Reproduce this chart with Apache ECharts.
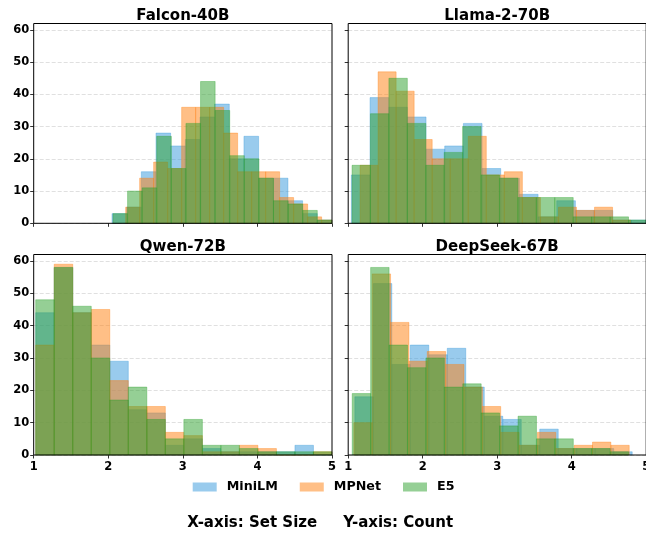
<!DOCTYPE html>
<html>
<head>
<meta charset="utf-8">
<script src="https://cdn.jsdelivr.net/npm/echarts@6/dist/echarts.min.js"></script>
<style>html,body{margin:0;padding:0;background:#fff}#c{width:646px;height:535px}</style>
</head>
<body>
<div id="c"></div>
<script>
const panelTitles = ['Falcon-40B', 'Llama-2-70B', 'Qwen-72B', 'DeepSeek-67B'];
const modelNames = ['MiniLM', 'MPNet', 'E5'];
const xTicks = [1, 2, 3, 4, 5];
const yTicks = [0, 10, 20, 30, 40, 50, 60];
const xLabel = 'X-axis: Set Size';
const yLabel = 'Y-axis: Count';

// histogram bin start (first edge) and bin width per model [MiniLM, MPNet, E5]
const falconBinStart = [2.050, 2.233, 2.063];
const falconBinWidth = [0.1966, 0.1877, 0.1957];
const falconMiniLM = [3, 5, 16, 28, 24, 26, 33, 37, 20, 27, 14, 14, 7, 3, 1];
const falconMPNet  = [5, 14, 19, 17, 36, 36, 36, 28, 16, 16, 16, 8, 6, 2, 1];
const falconE5     = [3, 10, 11, 27, 17, 31, 44, 35, 21, 20, 14, 7, 6, 4, 1];

const llamaBinStart = [1.0425, 1.159, 1.0515];
const llamaBinWidth = [0.2506, 0.2421, 0.2474];
const llamaMiniLM = [15, 39, 36, 33, 23, 24, 31, 17, 14, 9, 2, 7, 4, 4, 1, 1];
const llamaMPNet  = [18, 47, 41, 26, 20, 20, 27, 15, 16, 8, 2, 5, 4, 5, 1];
const llamaE5     = [18, 34, 45, 31, 18, 22, 30, 15, 14, 8, 8, 8, 2, 2, 2, 1];

const qwenBinStart = [1.027, 1.027, 1.027];
const qwenBinWidth = [0.2483, 0.2483, 0.2483];
const qwenMiniLM = [44, 58, 44, 34, 29, 14, 13, 3, 5, 2, 1, 1, 1, 1, 3, 0];
const qwenMPNet  = [34, 59, 44, 45, 23, 15, 15, 7, 6, 1, 1, 3, 2, 0, 0, 1];
const qwenE5     = [48, 58, 46, 30, 17, 21, 11, 5, 11, 3, 3, 2, 1, 1, 1, 1];

const deepseekBinStart = [1.089, 1.076, 1.054];
const deepseekBinWidth = [0.2482, 0.2464, 0.2473];
const deepseekMiniLM = [18, 53, 28, 34, 31, 33, 21, 12, 11, 3, 8, 2, 2, 2, 1];
const deepseekMPNet  = [10, 56, 41, 29, 32, 28, 21, 15, 7, 3, 7, 2, 3, 4, 3];
const deepseekE5     = [19, 58, 34, 27, 30, 21, 22, 13, 9, 12, 5, 5, 2, 2, 1];

const panels = [
  { starts: falconBinStart, widths: falconBinWidth, counts: [falconMiniLM, falconMPNet, falconE5] },
  { starts: llamaBinStart, widths: llamaBinWidth, counts: [llamaMiniLM, llamaMPNet, llamaE5] },
  { starts: qwenBinStart, widths: qwenBinWidth, counts: [qwenMiniLM, qwenMPNet, qwenE5] },
  { starts: deepseekBinStart, widths: deepseekBinWidth, counts: [deepseekMiniLM, deepseekMPNet, deepseekE5] }
];

const colors = ['rgba(52,152,219,0.5)', 'rgba(255,127,14,0.5)', 'rgba(44,160,44,0.5)'];
const FONT = 'DejaVu Sans';

const gridBoxes = [
  { left: 33.7, top: 23.5, width: 298.3, height: 199.8 },
  { left: 348.2, top: 23.5, width: 298, height: 199.8 },
  { left: 33.7, top: 254.5, width: 298.3, height: 200.5 },
  { left: 348.2, top: 254.5, width: 298, height: 200.5 }
];

function renderItem(params, api) {
  const p0 = api.coord([api.value(0), 0]);
  const p1 = api.coord([api.value(1), api.value(2)]);
  const cs = params.coordSys;
  const rect = echarts.graphic.clipRectByRect(
    { x: p0[0], y: p1[1], width: p1[0] - p0[0], height: p0[1] - p1[1] },
    { x: cs.x, y: cs.y, width: cs.width, height: cs.height }
  );
  if (!rect) return;
  const c = api.visual('color');
  return { type: 'rect', shape: rect, style: { fill: c, stroke: c, lineWidth: 0.7 } };
}

const grids = [], xAxes = [], yAxes = [], series = [], titles = [];
panels.forEach((pn, p) => {
  const g = gridBoxes[p];
  grids.push(Object.assign({ show: true, borderColor: '#000', borderWidth: 1, z: 10, containLabel: false, outerBoundsMode: 'none' }, g));
  const bottomRow = p >= 2, leftCol = p % 2 === 0;
  xAxes.push({
    type: 'value', gridIndex: p, min: 1, max: 5, interval: 1,
    axisLine: { show: false },
    axisTick: { show: true, length: 3.5, lineStyle: { color: '#333' } },
    axisLabel: { show: bottomRow, fontFamily: FONT, fontWeight: 'bold', fontSize: 11.5, color: '#000', margin: 6, hideOverlap: false },
    splitLine: { show: false }
  });
  yAxes.push({
    type: 'value', gridIndex: p, min: 0, max: 62,
    axisLine: { show: false },
    axisTick: { show: true, length: 3.5, lineStyle: { color: '#333' }, customValues: yTicks },
    axisLabel: { show: leftCol, fontFamily: FONT, fontWeight: 'bold', fontSize: 11.5, color: '#000', margin: 4.5, customValues: yTicks },
    splitLine: { show: true, lineStyle: { color: '#d8d8d8', type: [4, 2], width: 0.8 } }
  });
  titles.push({
    text: panelTitles[p], left: g.left + g.width / 2, textAlign: 'center', top: g.top - 15, padding: 0,
    textStyle: { fontFamily: FONT, fontWeight: 'bold', fontSize: 15, color: '#000' }
  });
  modelNames.forEach((name, m) => {
    const cnt = pn.counts[m];
    const data = cnt.map((c, i) => [pn.starts[m] + i * pn.widths[m], pn.starts[m] + (i + 1) * pn.widths[m], c]);
    series.push({
      type: 'custom', name: name, xAxisIndex: p, yAxisIndex: p,
      itemStyle: { color: colors[m] },
      encode: { x: [0, 1], y: 2 },
      renderItem: renderItem, data: data, z: 2
    });
  });
});

const chart = echarts.init(document.getElementById('c'), null, { renderer: 'canvas' });
chart.setOption({
  animation: false,
  backgroundColor: '#fff',
  title: titles,
  grid: grids,
  xAxis: xAxes,
  yAxis: yAxes,
  legend: {
    data: modelNames, top: 480.5, left: 192.7, itemWidth: 24, itemHeight: 9, itemGap: 22,
    icon: 'rect', padding: 0,
    textStyle: { fontFamily: FONT, fontWeight: 'bold', fontSize: 12.7, color: '#000', padding: [0, 0, 0, 5] }
  },
  graphic: [
    { type: 'text', left: 187.3, top: 516, style: { text: xLabel, font: 'bold 15px "DejaVu Sans"', fill: '#000' } },
    { type: 'text', left: 343.3, top: 516, style: { text: yLabel, font: 'bold 15px "DejaVu Sans"', fill: '#000' } }
  ],
  series: series
});
</script>
</body>
</html>
